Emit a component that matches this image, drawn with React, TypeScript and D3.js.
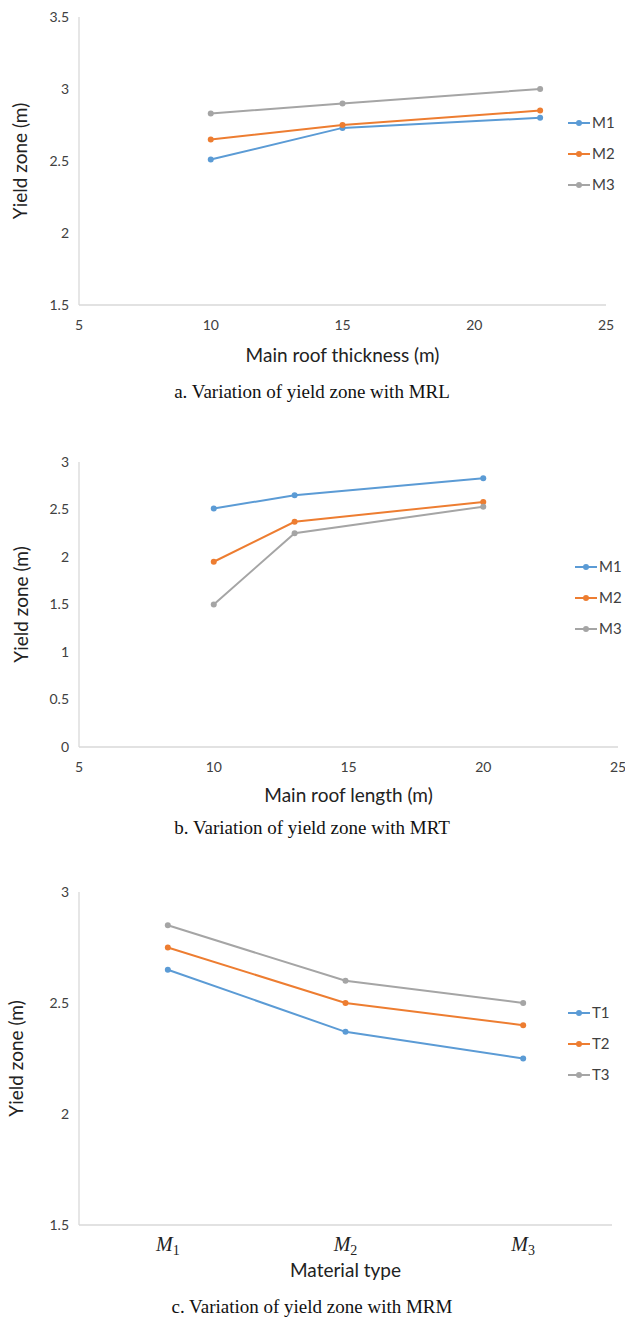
import { useRef, useEffect } from "react";
import * as d3 from "d3";

// panel a: main roof thickness
const thicknessX = [10, 15, 22.5];
const thicknessM1 = [2.51, 2.73, 2.8];
const thicknessM2 = [2.65, 2.75, 2.85];
const thicknessM3 = [2.83, 2.9, 3.0];
const thicknessTicksY = [1.5, 2, 2.5, 3, 3.5];
const thicknessTicksX = [5, 10, 15, 20, 25];

// panel b: main roof length
const lengthX = [10, 13, 20];
const lengthM1 = [2.51, 2.65, 2.83];
const lengthM2 = [1.95, 2.37, 2.58];
const lengthM3 = [1.5, 2.25, 2.53];
const lengthTicksY = [0, 0.5, 1, 1.5, 2, 2.5, 3];
const lengthTicksX = [5, 10, 15, 20, 25];

// panel c: material type
const materials = ["1", "2", "3"];
const materialT1 = [2.65, 2.37, 2.25];
const materialT2 = [2.75, 2.5, 2.4];
const materialT3 = [2.85, 2.6, 2.5];
const materialTicksY = [1.5, 2, 2.5, 3];

const colors = ["#5B9BD5", "#ED7D31", "#A5A5A5"];
const sansFont = "Lato, 'Open Sans', sans-serif";
const serifFont = "'Liberation Serif', 'DejaVu Serif', serif";

export default function App() {
  const svgRef = useRef(null);

  function drawPanel(svg: any, p: any) {
    const g = svg.append("g");
    const y = d3.scaleLinear().domain(p.yDomain).range([p.bottom, p.top]);
    let x: any;
    if (p.categorical) {
      x = d3.scalePoint().domain(p.cats).range([p.left, p.right]).padding(0.5);
    } else {
      x = d3.scaleLinear().domain(p.xDomain).range([p.left, p.right]);
    }

    // axes lines
    g.append("line")
      .attr("x1", p.left).attr("x2", p.left)
      .attr("y1", p.top).attr("y2", p.bottom)
      .attr("stroke", "#d9d9d9").attr("stroke-width", 1.3);
    g.append("line")
      .attr("x1", p.left).attr("x2", p.right)
      .attr("y1", p.bottom).attr("y2", p.bottom)
      .attr("stroke", "#d9d9d9").attr("stroke-width", 1.3);

    g.selectAll(".ytick")
      .data(p.yTicks)
      .join("text")
      .attr("x", p.left - 10)
      .attr("y", (d: number) => y(d))
      .attr("dy", "0.35em")
      .attr("text-anchor", "end")
      .attr("font-family", sansFont)
      .attr("font-size", 14)
      .attr("fill", "#404040")
      .text((d: number) => d);

    if (p.categorical) {
      const lab = g.selectAll(".xcat")
        .data(p.cats)
        .join("text")
        .attr("x", (d: string) => x(d))
        .attr("y", p.bottom + 26)
        .attr("text-anchor", "middle")
        .attr("font-family", serifFont)
        .attr("font-size", 20)
        .attr("fill", "#222");
      lab.append("tspan").attr("font-style", "italic").text("M");
      lab.append("tspan")
        .attr("font-size", 14)
        .attr("dy", 4)
        .text((d: string) => d);
    } else {
      g.selectAll(".xtick")
        .data(p.xTicks)
        .join("text")
        .attr("x", (d: number) => x(d))
        .attr("y", p.bottom + 25)
        .attr("text-anchor", "middle")
        .attr("font-family", sansFont)
        .attr("font-size", 14)
        .attr("fill", "#404040")
        .text((d: number) => d);
    }

    const line = d3.line<any>().x((d) => d[0]).y((d) => d[1]);
    p.series.forEach((s: number[], i: number) => {
      const pts = s.map((v, j) => [
        p.categorical ? x(p.cats[j]) : x(p.xs[j]),
        y(v),
      ]);
      g.append("path")
        .attr("d", line(pts))
        .attr("fill", "none")
        .attr("stroke", colors[i])
        .attr("stroke-width", 2);
      g.selectAll(".pt" + i)
        .data(pts)
        .join("circle")
        .attr("cx", (d: number[]) => d[0])
        .attr("cy", (d: number[]) => d[1])
        .attr("r", 3)
        .attr("fill", colors[i]);

      // legend
      const ly = p.legendY + i * 31;
      g.append("line")
        .attr("x1", p.legendX).attr("x2", p.legendX + 22)
        .attr("y1", ly).attr("y2", ly)
        .attr("stroke", colors[i]).attr("stroke-width", 2);
      g.append("circle")
        .attr("cx", p.legendX + 11).attr("cy", ly).attr("r", 3)
        .attr("fill", colors[i]);
      g.append("text")
        .attr("x", p.legendX + 24)
        .attr("y", ly)
        .attr("dy", "0.35em")
        .attr("font-family", sansFont)
        .attr("font-size", 15)
        .attr("fill", "#404040")
        .text(p.names[i]);
    });

    g.append("text")
      .attr("x", (p.left + p.right) / 2)
      .attr("y", p.xTitleY)
      .attr("text-anchor", "middle")
      .attr("font-family", sansFont)
      .attr("font-size", 19)
      .attr("fill", "#222")
      .text(p.xTitle);

    g.append("text")
      .attr("transform", `translate(${p.yTitleX},${(p.top + p.bottom) / 2}) rotate(-90)`)
      .attr("text-anchor", "middle")
      .attr("font-family", sansFont)
      .attr("font-size", 19)
      .attr("fill", "#222")
      .text("Yield zone (m)");

    g.append("text")
      .attr("x", 312)
      .attr("y", p.captionY)
      .attr("text-anchor", "middle")
      .attr("font-family", serifFont)
      .attr("font-size", 19)
      .attr("fill", "#111")
      .text(p.caption);
  }

  useEffect(() => {
    const svg = d3.select(svgRef.current);
    svg.selectAll("*").remove();

    drawPanel(svg, {
      top: 17, bottom: 305, left: 79, right: 606,
      yDomain: [1.5, 3.5], yTicks: thicknessTicksY,
      xDomain: [5, 25], xTicks: thicknessTicksX, xs: thicknessX,
      series: [thicknessM1, thicknessM2, thicknessM3],
      names: ["M1", "M2", "M3"],
      legendX: 568, legendY: 123,
      xTitle: "Main roof thickness (m)", xTitleY: 362, yTitleX: 27,
      caption: "a. Variation of yield zone with MRL", captionY: 398,
    });

    drawPanel(svg, {
      top: 462, bottom: 747, left: 79, right: 618,
      yDomain: [0, 3], yTicks: lengthTicksY,
      xDomain: [5, 25], xTicks: lengthTicksX, xs: lengthX,
      series: [lengthM1, lengthM2, lengthM3],
      names: ["M1", "M2", "M3"],
      legendX: 575, legendY: 567,
      xTitle: "Main roof length (m)", xTitleY: 802, yTitleX: 28,
      caption: "b. Variation of yield zone with MRT", captionY: 834,
    });

    drawPanel(svg, {
      top: 892, bottom: 1225, left: 79, right: 612,
      yDomain: [1.5, 3], yTicks: materialTicksY,
      categorical: true, cats: materials,
      series: [materialT1, materialT2, materialT3],
      names: ["T1", "T2", "T3"],
      legendX: 568, legendY: 1013,
      xTitle: "Material type", xTitleY: 1277, yTitleX: 23,
      caption: "c. Variation of yield zone with MRM", captionY: 1313,
    });
  }, []);

  return (
    <div style={{ position: "absolute", left: 0, top: 0 }}>
      <svg ref={svgRef} width={625} height={1321} style={{ display: "block", background: "#fff" }} />
    </div>
  );
}
